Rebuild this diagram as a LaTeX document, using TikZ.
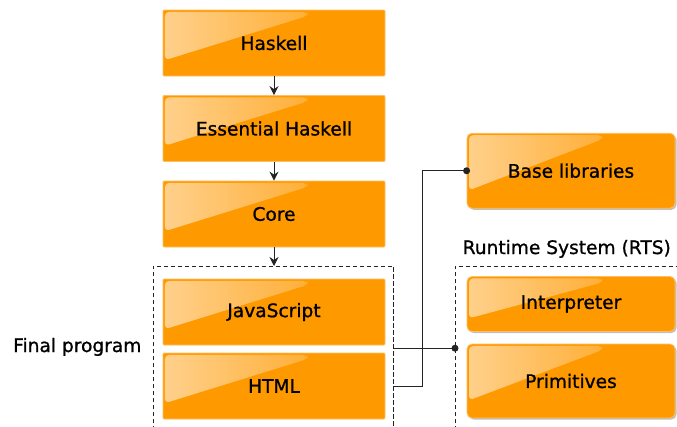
\documentclass[tikz,border=0pt]{standalone}
\usepackage{fontspec}
\setmainfont{DejaVu Sans}
\newfontfamily\lblfont{DejaVu Sans}[FakeBold=1.0]
\usetikzlibrary{arrows.meta,shadows,fadings,calc}
\tikzfading[name=glossfade, left color=transparent!45, right color=transparent!95]
\definecolor{boxorange}{RGB}{255,153,0}
\definecolor{boxedge}{RGB}{255,190,100}
\definecolor{linegray}{RGB}{35,35,35}
\begin{document}
\begin{tikzpicture}[x=1pt,y=-1pt,
  gloss/.style={path picture={
    \fill[white, path fading=glossfade, rounded corners=4pt]
      ([shift={(2pt,-2pt)}]path picture bounding box.north west)
      -- ([shift={(0pt,-2pt)}]$(path picture bounding box.north west)!0.65!(path picture bounding box.north east)$)
      -- ([shift={(0pt,-6pt)}]$(path picture bounding box.north west)!0.65!(path picture bounding box.north east)$)
      -- ([xshift=2pt]$(path picture bounding box.north west)!0.76!(path picture bounding box.south west)$)
      -- cycle;}},
  lbl/.style={font=\lblfont\fontsize{18.6}{22}\selectfont, inner sep=0pt},
  box/.style={draw=boxedge, line width=0.8pt, fill=boxorange, rounded corners=1pt,
    minimum width=222pt, minimum height=66pt, lbl, gloss},
  rbox/.style={box, rounded corners=5pt, minimum width=208pt,
    drop shadow={shadow xshift=1.5pt, shadow yshift=-1.5pt, opacity=0.25, fill=black}},
  area/.style={draw=none, inner sep=0pt, anchor=north west, minimum height=164pt},
  dashbox/.style={draw=linegray, line width=0.8pt, dash pattern=on 4.5pt off 2.5pt},
  conn/.style={draw=linegray, line width=0.9pt},
  arr/.style={conn, -{Stealth[length=9pt,width=9pt,inset=3pt]}},
  dot/.style={fill=linegray}
]
\useasboundingbox (0,0) rectangle (677,426);
\clip (0,0) rectangle (677,426);

% left column
\node[box] (haskell) at (274,43) {Haskell};
\node[box] (ess) at (274,128.5) {Essential Haskell};
\node[box] (core) at (274,214) {Core};

\node[area, minimum width=240pt] (final) at (153,266) {};
\draw[dashbox] (final.south west) -- (final.north west) -- (final.north east) -- (final.south east);
\node[box] (js) at (274,312) {JavaScript};
\node[box] (html) at (274,386) {HTML};
\node[lbl, anchor=base west] (finallbl) at (13,352) {Final program};

% right column
\node[rbox, minimum height=75pt] (base) at (571,170.75) {Base libraries};
\node[lbl, anchor=base west] (rtslbl) at (462.5,254) {Runtime System (RTS)};
\node[area, minimum width=240pt] (rts) at (455,266) {};
\draw[dashbox] (rts.south west) -- (rts.north west) -- (rts.north east);
\node[rbox, minimum height=55pt] (interp) at (571,304) {Interpreter};
\node[rbox, minimum height=74pt] (prim) at (571,381) {Primitives};

% arrows
\draw[arr] (haskell) -- (ess);
\draw[arr] (ess) -- (core);
\draw[arr] (core.south) -- (core.south |- final.north);

% connectors
\draw[conn] (final.east) -- (rts.west);
\fill[dot] (rts.west) circle (3.5pt);
\draw[conn] (html.east -| final.east) -- ++(29,0) |- (base.west);
\fill[dot] (base.west) circle (3.5pt);
\end{tikzpicture}
\end{document}
